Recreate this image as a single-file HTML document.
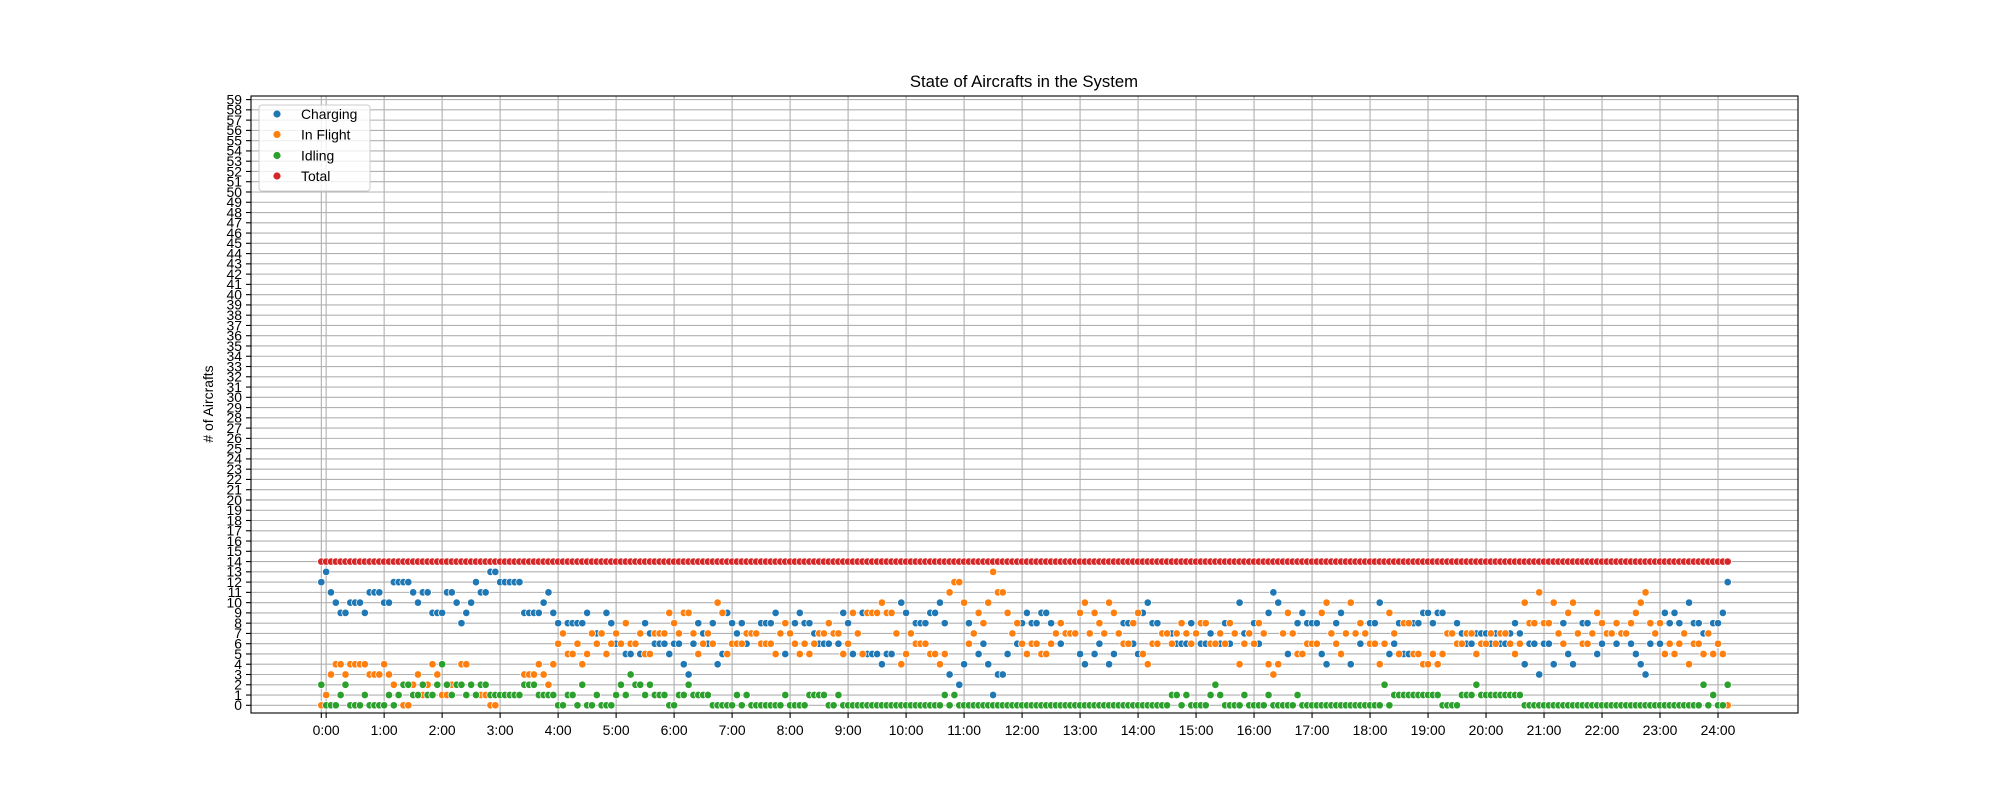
<!DOCTYPE html>
<html><head><meta charset="utf-8"><style>
html,body{margin:0;padding:0;background:#fff;}
svg{display:block;font-family:"Liberation Sans","DejaVu Sans",sans-serif;}
</style></head><body>
<svg id="chart" width="2000" height="800" viewBox="0 0 2000 800" xmlns="http://www.w3.org/2000/svg">
<rect width="2000" height="800" fill="#fff"/>
<text x="1024" y="87" font-size="16.7" text-anchor="middle" fill="#000">State of Aircrafts in the System</text>
<text transform="translate(213,404) rotate(-90)" font-size="13.9" text-anchor="middle" fill="#000"># of Aircrafts</text>
<g id="grid"></g><g id="marks"></g><g id="axes"></g>
<g>
<rect x="259" y="105" width="111" height="86" rx="3" fill="#fff" fill-opacity="0.8" stroke="#ccc"/>
<circle cx="277" cy="114" r="4" fill="#1f77b4" stroke="#fff" stroke-width="0.8"/>
<text x="301" y="119" font-size="13.9">Charging</text>
<circle cx="277" cy="134.5" r="4" fill="#ff7f0e" stroke="#fff" stroke-width="0.8"/>
<text x="301" y="139.5" font-size="13.9">In Flight</text>
<circle cx="277" cy="155.5" r="4" fill="#2ca02c" stroke="#fff" stroke-width="0.8"/>
<text x="301" y="160.5" font-size="13.9">Idling</text>
<circle cx="277" cy="176" r="4" fill="#d62728" stroke="#fff" stroke-width="0.8"/>
<text x="301" y="181" font-size="13.9">Total</text>
</g>
</svg>
<script>
// time of first sample (minutes) and sample step (minutes)
const startMinute = -5;
const stepMinutes = 5;
const charging = [12,13,11,10,9,9,10,10,10,9,11,11,11,10,10,12,12,12,12,11,10,11,11,9,9,9,11,11,10,8,9,10,12,11,11,13,13,12,12,12,12,12,9,9,9,9,10,11,9,
8,7,8,8,8,8,9,7,7,7,9,8,6,6,5,5,6,5,8,7,6,6,6,5,6,6,4,3,6,8,7,6,8,4,5,9,8,7,8,6,7,7,8,8,8,9,7,5,
7,8,9,8,8,7,6,6,6,7,6,9,8,5,7,9,5,5,5,4,5,5,7,10,9,7,8,8,8,9,9,10,8,3,1,2,4,8,7,5,6,4,1,3,3,5,7,6,8,9,
8,8,9,9,8,7,6,7,7,7,5,4,7,5,6,7,4,5,7,8,8,6,5,9,10,8,8,7,7,7,6,6,6,8,7,6,6,7,6,6,8,6,7,10,7,7,8,6,7,9,
11,10,7,5,7,8,9,8,8,8,5,4,7,8,9,7,4,7,6,7,8,8,10,6,5,6,8,5,5,8,8,9,9,8,9,9,7,7,8,7,6,6,7,7,7,6,7,6,6,
7,8,7,4,6,6,3,6,6,4,7,8,5,4,7,8,8,7,5,6,7,7,6,7,7,6,5,4,3,6,7,6,9,8,9,8,7,10,8,8,7,7,8,8,9,12];
const inFlight = [0,1,3,4,4,3,4,4,4,4,3,3,3,4,3,2,1,0,0,2,3,1,2,4,3,1,1,2,2,4,4,2,1,1,1,0,0,1,1,1,1,1,3,3,3,4,3,2,4,
6,7,5,5,6,4,5,7,6,7,5,6,7,6,8,6,6,7,5,5,7,7,7,9,8,7,9,9,7,5,6,7,6,10,9,5,6,6,6,7,7,7,6,6,6,5,7,8,
7,6,5,6,5,6,7,7,8,7,7,5,6,9,7,5,9,9,9,10,9,9,7,4,5,7,6,6,6,5,5,4,5,11,12,12,10,6,7,9,8,10,13,11,11,9,7,8,6,5,
6,6,5,5,6,7,8,7,7,7,9,10,7,9,8,7,10,9,7,6,6,8,9,5,4,6,6,7,7,6,7,8,7,6,7,8,8,6,6,7,6,8,7,4,6,7,6,8,7,4,
3,4,7,9,7,5,5,6,6,6,9,10,7,6,5,7,10,7,8,7,6,6,4,6,9,7,5,8,8,5,5,4,4,5,4,5,7,7,6,6,7,7,5,6,6,7,6,7,7,
6,5,6,10,8,8,11,8,8,10,7,6,9,10,7,6,6,7,9,8,7,7,8,7,7,8,9,10,11,8,7,8,5,6,5,6,7,4,6,6,5,7,5,6,5,0];
const idling = [2,0,0,0,1,2,0,0,0,1,0,0,0,0,1,0,1,2,2,1,1,2,1,1,2,4,2,1,2,2,1,2,1,2,2,1,1,1,1,1,1,1,2,2,2,1,1,1,1,
0,0,1,1,0,2,0,0,1,0,0,0,1,2,1,3,2,2,1,2,1,1,1,0,0,1,1,2,1,1,1,1,0,0,0,0,0,1,0,1,0,0,0,0,0,0,0,1,
0,0,0,0,1,1,1,1,0,0,1,0,0,0,0,0,0,0,0,0,0,0,0,0,0,0,0,0,0,0,0,0,1,0,1,0,0,0,0,0,0,0,0,0,0,0,0,0,0,0,
0,0,0,0,0,0,0,0,0,0,0,0,0,0,0,0,0,0,0,0,0,0,0,0,0,0,0,0,0,1,1,0,1,0,0,0,0,1,2,1,0,0,0,0,1,0,0,0,0,1,
0,0,0,0,0,1,0,0,0,0,0,0,0,0,0,0,0,0,0,0,0,0,0,2,0,1,1,1,1,1,1,1,1,1,1,0,0,0,0,1,1,1,2,1,1,1,1,1,1,
1,1,1,0,0,0,0,0,0,0,0,0,0,0,0,0,0,0,0,0,0,0,0,0,0,0,0,0,0,0,0,0,0,0,0,0,0,0,0,0,2,0,1,0,0,2];
const total = [14,14,14,14,14,14,14,14,14,14,14,14,14,14,14,14,14,14,14,14,14,14,14,14,14,14,14,14,14,14,14,14,14,14,14,14,14,14,14,14,14,14,14,14,14,14,14,14,14,
14,14,14,14,14,14,14,14,14,14,14,14,14,14,14,14,14,14,14,14,14,14,14,14,14,14,14,14,14,14,14,14,14,14,14,14,14,14,14,14,14,14,14,14,14,14,14,14,
14,14,14,14,14,14,14,14,14,14,14,14,14,14,14,14,14,14,14,14,14,14,14,14,14,14,14,14,14,14,14,14,14,14,14,14,14,14,14,14,14,14,14,14,14,14,14,14,14,14,
14,14,14,14,14,14,14,14,14,14,14,14,14,14,14,14,14,14,14,14,14,14,14,14,14,14,14,14,14,14,14,14,14,14,14,14,14,14,14,14,14,14,14,14,14,14,14,14,14,14,
14,14,14,14,14,14,14,14,14,14,14,14,14,14,14,14,14,14,14,14,14,14,14,14,14,14,14,14,14,14,14,14,14,14,14,14,14,14,14,14,14,14,14,14,14,14,14,14,14,
14,14,14,14,14,14,14,14,14,14,14,14,14,14,14,14,14,14,14,14,14,14,14,14,14,14,14,14,14,14,14,14,14,14,14,14,14,14,14,14,14,14,14,14,14,14];
const xTickHours = [0,1,2,3,4,5,6,7,8,9,10,11,12,13,14,15,16,17,18,19,20,21,22,23,24];
const yTicks = [0,1,2,3,4,5,6,7,8,9,10,11,12,13,14,15,16,17,18,19,20,21,22,23,24,25,26,27,28,29,30,31,32,33,34,35,36,37,38,39,40,41,42,43,44,45,46,47,48,49,50,51,52,53,54,55,56,57,58,59];

const NS = "http://www.w3.org/2000/svg";
const L = 251, R = 1798, T = 96, B = 713;
const xMin = -77.75, xMax = 1522.75, yMin = -0.75, yMax = 59.35;
function xs(m){ return L + (m - xMin) / (xMax - xMin) * (R - L); }
function ys(v){ return B - (v - yMin) / (yMax - yMin) * (B - T); }
function mk(tag, attrs, parent){ const e = document.createElementNS(NS, tag); for (const k in attrs) e.setAttribute(k, attrs[k]); parent.appendChild(e); return e; }

const grid = document.getElementById('grid'), marks = document.getElementById('marks'), axes = document.getElementById('axes');
yTicks.forEach(v => {
  const y = ys(v);
  const g = mk('line', {x1:L, x2:R, y1:y, y2:y, stroke:'#b0b0b0', 'stroke-width':1.1}, grid);
  
  
  mk('line', {x1:L-5, x2:L, y1:y, y2:y, stroke:'#000', 'stroke-width':1.1}, axes);
  const t = mk('text', {x:L-9, y:y+4.8, 'font-size':13.9, 'text-anchor':'end', fill:'#000'}, axes);
  t.textContent = String(v);
  
  
});
const xGridMinutes = [startMinute].concat(xTickHours.map(h => h * 60));
xGridMinutes.forEach((m, i) => {
  const x = xs(m);
  const g = mk('line', {x1:x, x2:x, y1:T, y2:B, stroke:'#b0b0b0', 'stroke-width':1.1}, grid);
  
  
  mk('line', {x1:x, x2:x, y1:B, y2:B+5, stroke:'#000', 'stroke-width':1.1}, axes);
  if (i > 0) {
    const t = mk('text', {x:x, y:B+22, 'font-size':13.9, 'text-anchor':'middle', fill:'#000'}, axes);
    t.textContent = xTickHours[i-1] + ':00';
    
    
  }
});
const frame = mk('rect', {x:L, y:T, width:R-L, height:B-T, fill:'none', stroke:'#000', 'stroke-width':1.1}, axes);



const series = [['charging', charging, '#1f77b4'], ['in-flight', inFlight, '#ff7f0e'], ['idling', idling, '#2ca02c'], ['total', total, '#d62728']];
series.forEach(([name, vals, col]) => {
  const g = mk('g', {}, marks);
  
  
  vals.forEach((v, i) => {
    const c = mk('circle', {cx:xs(startMinute + i * stepMinutes), cy:ys(v), r:3.7, fill:col, stroke:'#fff', 'stroke-width':0.7}, g);
    
    
  });
});
</script>
</body></html>
